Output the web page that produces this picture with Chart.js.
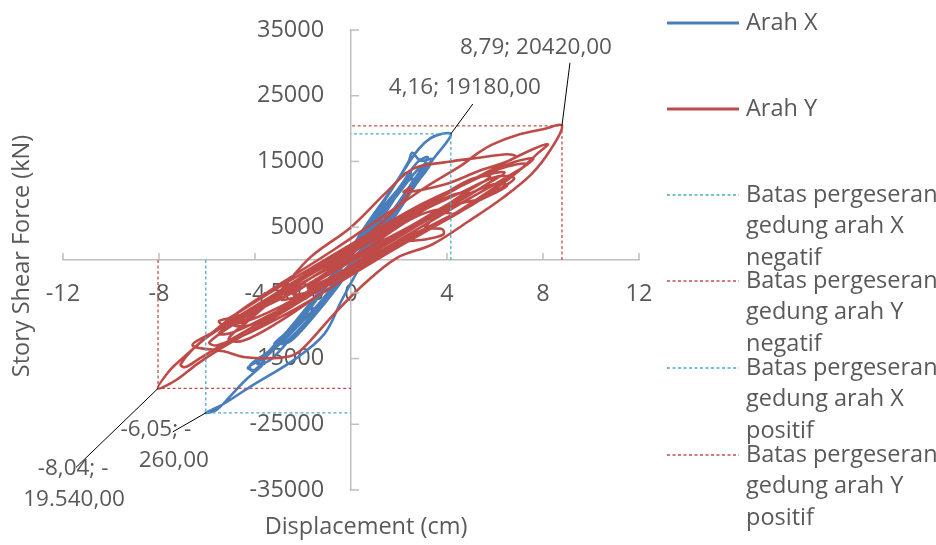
<!DOCTYPE html>
<html>
<head>
<meta charset="utf-8">
<script src="https://cdn.jsdelivr.net/npm/chart.js@4.4.0/dist/chart.umd.min.js"></script>
<style>
  html, body { margin: 0; padding: 0; background: #fff; }
</style>
</head>
<body>
<canvas id="chart" width="936" height="545"></canvas>
<script>
/* values */
var xTickValues = [-12, -8, -4, 0, 4, 8, 12];
var yTickValues = [-35000, -25000, -15000, -5000, 5000, 15000, 25000, 35000];

/* Arah X (blue) */
var arahXDisp = [0, 0.4, 0.8, 0.5, -0.1, -0.6, -0.9, -0.5, 0.2, 0.9, 1.5, 1.1, 0.3, -0.5, -1.3, -1.8, -1.3, -0.4,
  0.5, 1.4, 2.1, 2.6, 2.2, 1.3, 0.3, -0.8, -1.8, -2.7, -3.2, -2.7, -1.6, -0.5, 0.6, 1.7, 2.5, 3.1, 3.4, 2.9,
  2.55, 2.4, 1.8, 0.9, 0.0, -1.0, -2.1, -3.0, -3.8, -4.3, -4.0, -3.5, -2.6, -1.4, -0.2, 0.9, 1.9, 2.8, 3.5,
  4.0, 4.16, 3.8, 3.3, 2.8, 2.2, 1.3, 0.3, -0.7, -1.7, -2.6, -3.4, -4.2, -4.1, -3.7, -4.4, -5.0, -5.6, -6.05,
  -5.4, -4.2, -2.3, -1.1, -0.4, 0.3, 1.0, 1.8, 2.7, 3.3, 2.9, 2.0, 1.0, 0.0, -0.9, -1.8, -2.2, -1.6, -0.6,
  0.4, 1.2, 0.8, 0.0, -0.3, 0.6, 1.4, 2.0, 2.5, 2.1, 1.4, 0.5, -0.4, -1.3, -2.2, -2.9, -2.5, -1.6, -0.6,
  0.3, 1.2, 2.0, 2.7, 3.2, 2.8, 2.1, 1.2, 0.2, -0.8, -1.9, -2.9, -3.6, -3.9, -3.4, -2.5, -1.4, -0.3, 0.7,
  1.6, 1.1, 0.3, -0.2];
var arahXForce = [0, 1500, 3300, 2700, 300, -2300, -3800, -3000, 300, 3700, 6600, 5900, 2400, -1700, -5300, -7500, -6800, -2900,
  1500, 5800, 9400, 12300, 11600, 7900, 3100, -2300, -7000, -11000, -12800, -12400, -8300, -3200, 1600, 6400, 10900, 14100, 15400, 15100,
  16300, 15000, 11300, 6300, 1500, -3700, -8800, -12600, -15200, -16400, -16700, -14600, -11500, -6900, -1300, 3400, 7700, 12000, 15700,
  18000, 19180, 19200, 18500, 16800, 13600, 8600, 3200, -2000, -6900, -10700, -13800, -16000, -16900, -16000, -18300, -20600, -22800, -23260,
  -22100, -19300, -15000, -11200, -6200, -1500, 2900, 6500, 11500, 14600, 14200, 10200, 5400, 600, -3400, -7400, -9200, -7800, -3300,
  1000, 4800, 4200, 1000, -200, 3300, 7000, 10400, 13300, 12800, 9300, 4600, -800, -5400, -9700, -12700, -12300, -8800, -4300,
  300, 4600, 8600, 12600, 15600, 15000, 11500, 6900, 2100, -2700, -7800, -11800, -14600, -15800, -15300, -11900, -7500, -2500, 2000,
  6000, 5600, 2000, 0];

/* Arah Y (red) */
var arahYDisp = [0, 0.9, 1.7, 2.3, 1.6, 0.4, -0.8, -1.7, -1.2, 0.0, 1.4, 2.8, 3.7, 2.9, 1.5, -0.2, -1.9, -2.9, -2.2, -0.9,
  0.8, 2.2, 3.2, 3.85, 3.8, 3.1, 4.3, 4.9, 4.1, 2.4, 0.5, -1.5, -3.4, -4.5, -5.3, -5.5, -5.0, -3.8, -2.0, 0.1,
  2.1, 4.2, 5.6, 6.4, 5.5, 3.6, 1.6, -0.4, -2.5, -4.3, -5.5, -4.9, -3.4, -1.3, 0.8, 3.0, 4.9, 6.3, 7.3, 6.2,
  4.4, 2.3, 0.2, -1.9, -3.9, -5.7, -6.6, -5.3, -4.4, -3.0, -2.3, -1.7, -0.7, 0.5, 1.9, 3.4, 4.9, 6.3, 7.5, 8.3,
  8.79, 8.0, 6.9, 5.9, 5.3, 4.6, 3.2, 1.2, -0.7, -2.8, -4.6, -6.0, -7.1, -7.6, -8.04, -7.3, -6.4, -5.4, -3.6, -1.6,
  0.5, 2.6, 4.5, 6.0, 7.0, 7.8, 8.2, 7.6, 6.3, 4.6, 2.7, 0.6, -1.5, -3.4, -5.1, -6.3, -7.1, -6.9, -6.4, -5.1,
  -3.2, -1.0, 1.2, 3.3, 5.2, 6.5, 5.9, 4.3, 2.4, 0.4, -1.6, -3.3, -4.3, -4.0, -3.1, -1.7, 0.0, 1.5, 2.6, 4.0,
  5.4, 6.5, 6.85, 6.5, 5.3, 3.9, 2.2, 2.5, 2.35, 1.6, 0.2, -1.4, -3.0, -4.2, -5.1, -4.5, -3.0, -1.2, 0.6, 2.4,
  4.0, 5.3, 4.4, 2.8, 1.0, -0.6, -1.8, -1.0, 0.0, 0.6, 1.9, 3.3, 4.7, 5.8, 5.0, 3.5, 1.8, 0.0, -1.8, -3.6,
  -4.9, -4.2, -2.7, -0.8, 1.2, 3.1, 4.8, 6.0, 6.8, 6.1, 4.6, 2.9, 1.0, -0.9, -2.8, -4.4, -5.9, -5.6, -4.2, -2.2,
  -0.3, 1.6, 3.6, 5.4, 6.9, 7.6, 6.8, 5.0, 3.0, 1.0, -1.0, -2.9, -4.6, -5.2, -4.6, -3.0, -1.1, 0.7, 2.5, 4.2,
  3.6, 2.0, 0.2, -1.3, -2.4, -1.7, -0.5, 0.3];
var arahYForce = [0, 2300, 4400, 5900, 5000, 2000, -1500, -3800, -3300, -900, 2200, 5300, 7600, 6900, 4100, 600, -3300, -6000, -5500, -2900,
  600, 2700, 3200, 3900, 4700, 5000, 8700, 10300, 9700, 6200, 2300, -1800, -6200, -9300, -9900, -9300, -8800, -7400, -4100, 300,
  4300, 8300, 11400, 13300, 12800, 9400, 5400, 1200, -3600, -7900, -11200, -11000, -8400, -4300, 400, 5200, 9300, 12200, 14600, 13900,
  10900, 6600, 1900, -2500, -6800, -10900, -13000, -13900, -14800, -14900, -14300, -12300, -8200, -3800, 300, 2400, 5900, 9400, 13000, 16700,
  20420, 19900, 19000, 17600, 16300, 14400, 11300, 6300, 1600, -3300, -7700, -11700, -15200, -17000, -19540, -18300, -15800, -13400, -9600, -5200,
  -700, 3400, 7200, 10800, 13600, 16300, 17600, 16900, 14600, 11300, 7300, 2700, -1800, -6000, -9600, -12600, -15900, -16300, -15200, -12300,
  -8300, -3600, 900, 5000, 8800, 11300, 11500, 9000, 5000, 1200, -2600, -6200, -8600, -8200, -5300, 400, 5000, 10400, 13900, 14900,
  15600, 16100, 15800, 15000, 13500, 11500, 10300, 11000, 9800, 6800, 2300, -1500, -5400, -9000, -12000, -12300, -9400, -5000, -800, 3100,
  6300, 9000, 8400, 5300, 1800, -1500, -4200, -3400, -1000, 600, 3400, 6600, 10100, 12700, 12300, 9200, 5600, 1800, -2000, -6400,
  -9800, -9900, -7000, -3100, 1300, 4800, 8000, 10400, 12400, 12700, 10300, 7400, 3900, -200, -4700, -8600, -12500, -13000, -11000, -7200,
  -3000, 1200, 5400, 9600, 13400, 15400, 14900, 12000, 8600, 4500, 200, -3900, -7800, -9300, -9600, -7200, -3300, 400, 3600, 6900,
  7000, 4200, 800, -2600, -5200, -4800, -2200, -300];

/* drift limit lines */
var batasXNegDisp = [-6.05, -6.05, 0];
var batasXNegForce = [0, -23260, -23260];
var batasYNegDisp = [-8.04, -8.04, 0];
var batasYNegForce = [0, -19540, -19540];
var batasXPosDisp = [4.16, 4.16, 0];
var batasXPosForce = [0, 19180, 19180];
var batasYPosDisp = [8.79, 8.79, 0];
var batasYPosForce = [0, 20420, 20420];

/* data labels */
var calloutDisp = [8.79, 4.16, -6.05, -8.04];
var calloutForce = [20420, 19180, -23260, -19540];
var calloutText = [["8,79; 20420,00"], ["4,16; 19180,00"], ["-6,05; -", "260,00"], ["-8,04; -", "19.540,00"]];

var legendNames = ["Arah X", "Arah Y",
  "Batas pergeseran gedung arah X negatif", "Batas pergeseran gedung arah Y negatif",
  "Batas pergeseran gedung arah X positif", "Batas pergeseran gedung arah Y positif"];

function toPoints(xs, ys) {
  var pts = [];
  for (var i = 0; i < xs.length; i++) pts.push({x: xs[i], y: ys[i]});
  return pts;
}

var FONT = '"Open Sans", sans-serif';
var TXT = '#595959';
var BLUE = '#4a7ebb';
var RED = '#be4b48';
var CYAN = '#4bacc6';
var RED_D = '#c0504d';

function dashed(label, xs, ys, color) {
  return {
    label: label, data: toPoints(xs, ys), showLine: true, borderColor: color,
    borderWidth: 1.3, borderDash: [3, 2.5], pointRadius: 0, tension: 0, order: 1
  };
}

var decor = {
  id: 'decor',
  afterDraw: function (chart) {
    var ctx = chart.ctx, xs = chart.scales.x, ys = chart.scales.y;
    var x0 = xs.getPixelForValue(0), y0 = ys.getPixelForValue(0);
    ctx.save();
    // tick marks (on the side away from the labels)
    ctx.strokeStyle = '#bfbfbf';
    ctx.lineWidth = 1.5;
    xTickValues.forEach(function (v) {
      if (v === 0) return;
      var px = xs.getPixelForValue(v);
      ctx.beginPath(); ctx.moveTo(px, y0); ctx.lineTo(px, y0 - 7); ctx.stroke();
    });
    yTickValues.forEach(function (v) {
      var py = ys.getPixelForValue(v);
      ctx.beginPath(); ctx.moveTo(x0, py); ctx.lineTo(x0 + 8, py); ctx.stroke();
    });

    // axis titles
    ctx.fillStyle = TXT;
    ctx.font = '23.5px ' + FONT;
    ctx.textAlign = 'center';
    ctx.textBaseline = 'middle';
    ctx.fillText('Displacement (cm)', 366, 527);
    ctx.save();
    ctx.translate(22, 256);
    ctx.rotate(-Math.PI / 2);
    ctx.fillText('Story Shear Force (kN)', 0, 0);
    ctx.restore();

    // callouts with leader lines
    ctx.font = '22.5px ' + FONT;
    var textOff = [[[-26, -78]], [[14, -46]], [[-50, 17], [-32, 48]], [[-85, 80], [-84, 111]]];
    var leadOff = [[8, -63], [22, -30], [-33, 19], [-82, 79]];
    calloutDisp.forEach(function (d, i) {
      var px = xs.getPixelForValue(d), py = ys.getPixelForValue(calloutForce[i]);
      ctx.strokeStyle = '#000';
      ctx.lineWidth = 1;
      ctx.beginPath();
      ctx.moveTo(px + leadOff[i][0], py + leadOff[i][1]);
      ctx.lineTo(px, py);
      ctx.stroke();
      calloutText[i].forEach(function (t, j) {
        ctx.fillText(t, px + textOff[i][j][0], py + textOff[i][j][1]);
      });
    });

    // legend
    ctx.font = '23.5px ' + FONT;
    var items = [
      {c: BLUE, dash: null, w: 3, rows: ['Arah X'], y: 23},
      {c: RED, dash: null, w: 3, rows: ['Arah Y'], y: 109},
      {c: CYAN, dash: [3, 2.5], w: 1.3, rows: ['Batas pergeseran', 'gedung arah X', 'negatif'], y: 195},
      {c: RED_D, dash: [3, 2.5], w: 1.3, rows: ['Batas pergeseran', 'gedung arah Y', 'negatif'], y: 281},
      {c: CYAN, dash: [3, 2.5], w: 1.3, rows: ['Batas pergeseran', 'gedung arah X', 'positif'], y: 368},
      {c: RED_D, dash: [3, 2.5], w: 1.3, rows: ['Batas pergeseran', 'gedung arah Y', 'positif'], y: 455}
    ];
    ctx.textAlign = 'left';
    items.forEach(function (it) {
      ctx.strokeStyle = it.c;
      ctx.lineWidth = it.w;
      ctx.setLineDash(it.dash || []);
      ctx.beginPath(); ctx.moveTo(667, it.y); ctx.lineTo(739, it.y); ctx.stroke();
      ctx.setLineDash([]);
      it.rows.forEach(function (r, j) {
        ctx.fillText(r, 746, it.y + j * 31.5);
      });
    });
    ctx.restore();
  }
};

var ctx = document.getElementById('chart');
var myChart = new Chart(ctx, {
  type: 'scatter',
  data: {
    datasets: [
      {label: legendNames[0], data: toPoints(arahXDisp, arahXForce), showLine: true, borderColor: BLUE,
        borderWidth: 2.6, pointRadius: 0, tension: 0.35, order: 3},
      {label: legendNames[1], data: toPoints(arahYDisp, arahYForce), showLine: true, borderColor: RED,
        borderWidth: 2.6, pointRadius: 0, tension: 0.35, order: 2},
      dashed(legendNames[2], batasXNegDisp, batasXNegForce, CYAN),
      dashed(legendNames[3], batasYNegDisp, batasYNegForce, RED_D),
      dashed(legendNames[4], batasXPosDisp, batasXPosForce, CYAN),
      dashed(legendNames[5], batasYPosDisp, batasYPosForce, RED_D)
    ]
  },
  options: {
    responsive: false,
    animation: false,
    layout: {padding: {left: 63, right: 297, top: 30, bottom: 55}},
    plugins: {legend: {display: false}, tooltip: {enabled: false}},
    scales: {
      x: {
        type: 'linear', min: -12, max: 12, position: {y: 0},
        afterBuildTicks: function (s) { s.ticks = xTickValues.map(function (v) { return {value: v}; }); },
        ticks: {font: {family: FONT, size: 23.5}, color: TXT, padding: 20, maxRotation: 0,
          callback: function (v) { return String(v); }},
        grid: {display: false, drawTicks: false},
        border: {display: true, color: '#bfbfbf', width: 1.5}
      },
      y: {
        type: 'linear', min: -35000, max: 35000, position: {x: 0},
        afterBuildTicks: function (s) { s.ticks = yTickValues.map(function (v) { return {value: v}; }); },
        // labels sit against a centred axis, so pad them with two figure spaces
        ticks: {font: {family: FONT, size: 23.5}, color: TXT,
          callback: function (v) { return String(v) + '\u2007\u2007'; }},
        grid: {display: false, drawTicks: false},
        border: {display: true, color: '#bfbfbf', width: 1.5}
      }
    }
  },
  plugins: [decor]
});
</script>
</body>
</html>
